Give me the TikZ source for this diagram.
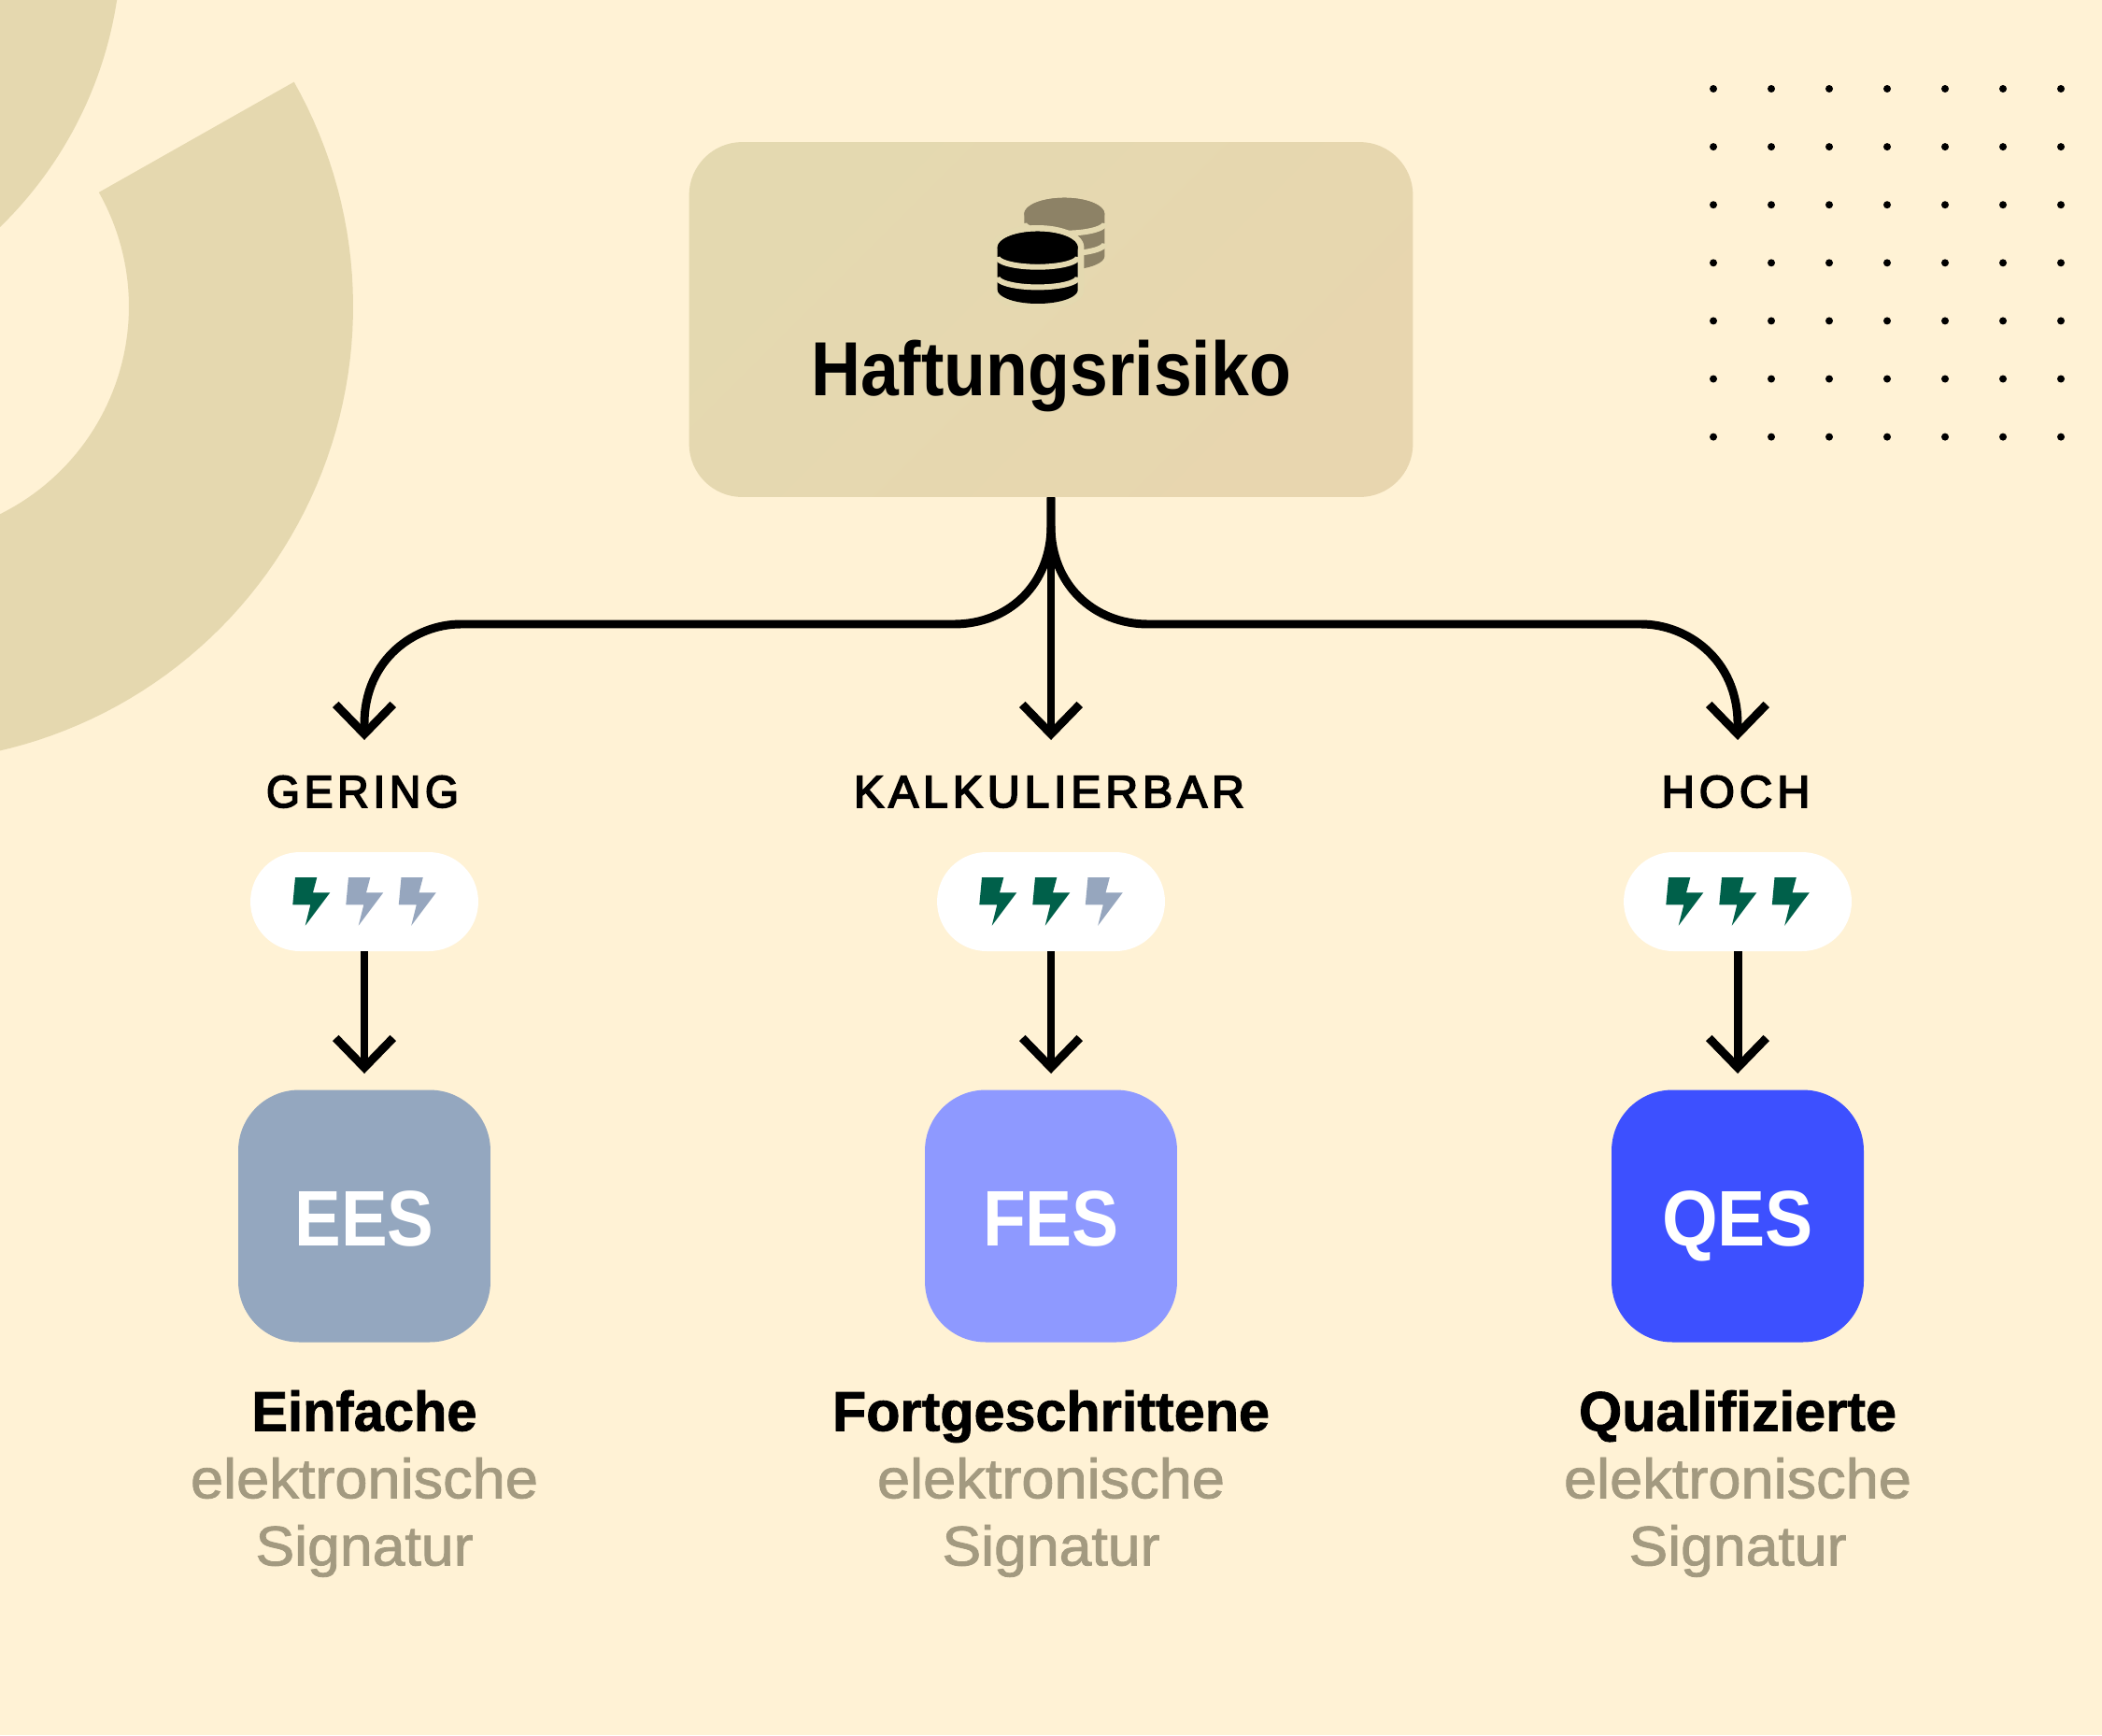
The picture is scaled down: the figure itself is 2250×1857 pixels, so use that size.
\documentclass[tikz,border=0pt]{standalone}
\usepackage{fontspec}
\usepackage{graphicx}
\usetikzlibrary{arrows.meta}
\setmainfont{Liberation Sans}
\newfontfamily\medf[FakeBold=1.4]{Liberation Sans}
\newfontfamily\spaced[LetterSpace=10,FakeBold=3.5]{Liberation Sans}
\newdimen\pxu \pxu=0.5691pt
\newcommand{\fw}[2]{\resizebox{#1\pxu}{\height}{#2}}
\definecolor{bgc}{HTML}{FFF2D5}
\definecolor{ringc}{HTML}{E5D8AF}
\definecolor{boxa}{HTML}{E4D9B0}
\definecolor{boxb}{HTML}{E8D6AF}
\definecolor{coinb}{HTML}{8D8266}
\definecolor{gtxt}{HTML}{A39A80}
\definecolor{bgreen}{HTML}{00604A}
\definecolor{bgrey}{HTML}{96A6BE}
\definecolor{eesc}{HTML}{94A7BF}
\definecolor{fesc}{HTML}{8E99FF}
\definecolor{qesc}{HTML}{3D50FF}
\tikzset{
  conn/.style={line width=5.1pt,black,-{Straight Barb[length=18pt,width=35pt]}},
  pillbox/.style={fill=white,minimum width=4.88cm,minimum height=2.12cm,rounded corners=1.06cm,inner sep=0},
  sigbox/.style={minimum width=5.4cm,minimum height=5.4cm,rounded corners=1.3cm,inner sep=0,text height=1.26cm,text depth=0pt,text=white,font=\bfseries\fontsize{48}{48}\selectfont},
  level/.style={anchor=base,inner sep=0,font=\spaced\fontsize{27.5}{27.5}\selectfont},
  caption/.style={anchor=north,inner sep=0,align=center,text=gtxt,font=\medf\fontsize{34.1}{41}\selectfont},
  titletext/.style={anchor=base,inner sep=0,font=\bfseries\fontsize{46.7}{46.7}\selectfont}
}
\newcommand{\coinsil}[2]{plot[domain=180:360,samples=40] ({#1+43*cos(\x)},{#2+17.3*sin(\x)}) -- plot[domain=0:180,samples=40] ({#1+43*cos(\x)},{#2+45+15*sin(\x)}) -- cycle}
\newcommand{\coin}[3]{%
  \fill[#3] \coinsil{#1}{#2};
  \draw[boxa,line width=3.4pt] plot[domain=0:180,samples=40] ({#1+43*cos(\x)},{#2+10+10.7*sin(\x)});
  \draw[boxa,line width=3.4pt] plot[domain=0:180,samples=40] ({#1+43*cos(\x)},{#2+31.7+10.7*sin(\x)});
  \fill[#3] (#1,#2) ellipse [x radius=43,y radius=17.3];
}
\newcommand{\bolt}[2]{\fill[#2] (#1-17,939) -- (#1+6.3,939) -- (#1+2,955.3) -- (#1+20.3,955.3) -- (#1-6.3,990.7) -- (#1-0.7,968.3) -- (#1-19.7,968.3) -- cycle;}
\begin{document}
\begin{tikzpicture}[x=0.02cm,y=-0.02cm]
\useasboundingbox (0,0) rectangle (2250,1857);
\fill[bgc] (0,0) rectangle (2250,1857);
\begin{scope}
\clip (0,0) rectangle (2250,1857);
\fill[ringc] plot[domain=-29.5:150,samples=100] ({-110+488*cos(\x)},{328+488*sin(\x)}) -- plot[domain=150:-29.5,samples=100] ({-110+248*cos(\x)},{328+248*sin(\x)}) -- cycle;
\fill[ringc] (-300,-65) circle [radius=430];
\end{scope}
\foreach \i in {0,...,6}
  \foreach \j in {0,...,6}
    \fill[black] ({1834+62*\i},{95+62.1*\j}) circle [radius=4];
% top box
\node[minimum width=15.5cm,minimum height=7.6cm,rounded corners=1.14cm,inner sep=0,left color=boxa,right color=boxb,shading angle=45] (top) at (1125,342) {};
% coins
\coin{1139.3}{229}{coinb}
\draw[boxa,line width=7.6pt,fill=boxa] \coinsil{1110.7}{265};
\coin{1110.7}{265}{black}
\node[titletext] (title) at (1125,423) {\fw{514}{Haftungsrisiko}};
% levels
\node[level] (l0) at (388,864) {\fw{206}{GERING}};
\node[level] (l1) at (1123,864) {\fw{418}{KALKULIERBAR}};
\node[level] (l2) at (1858,864) {\fw{159}{HOCH}};
% pills
\node[pillbox] (p0) at (390,965) {};
\node[pillbox] (p1) at (1125,965) {};
\node[pillbox] (p2) at (1860,965) {};
\bolt{333}{bgreen}\bolt{390}{bgrey}\bolt{446.5}{bgrey}
\bolt{1068}{bgreen}\bolt{1125}{bgreen}\bolt{1181.5}{bgrey}
\bolt{1803}{bgreen}\bolt{1860}{bgreen}\bolt{1916.5}{bgreen}
% squares
\node[sigbox,fill=eesc] (s0) at (390,1301.5) {\fw{149}{EES}};
\node[sigbox,fill=fesc] (s1) at (1125,1301.5) {\fw{146}{FES}};
\node[sigbox,fill=qesc] (s2) at (1860,1301.5) {\fw{162}{QES}};
% captions
\node[caption] (c0) at (390,1486) {\rule{0pt}{25.6pt}\textcolor{black}{\bfseries\fw{241}{Einfache}}\\\fw{372}{elektronische}\\\fw{233}{Signatur}};
\node[caption] (c1) at (1125,1486) {\rule{0pt}{25.6pt}\textcolor{black}{\bfseries\fw{468}{Fortgeschrittene}}\\\fw{372}{elektronische}\\\fw{233}{Signatur}};
\node[caption] (c2) at (1860,1486) {\rule{0pt}{25.6pt}\textcolor{black}{\bfseries\fw{340}{Qualifizierte}}\\\fw{372}{elektronische}\\\fw{233}{Signatur}};
% connector ends
\coordinate (a0) at (390,792);
\coordinate (a1) at (1125,792);
\coordinate (a2) at (1860,792);
\coordinate (b0) at (390,1149);
\coordinate (b1) at (1125,1149);
\coordinate (b2) at (1860,1149);
\draw[conn] (top.south) -- (1125,563) .. controls (1125,625) and (1080,668) .. (1021,668) -- (493,668) .. controls (445,668) and (390,705) .. (390,775) -- (a0);
\draw[conn] (top.south) -- (a1);
\draw[conn] (top.south) -- (1125,563) .. controls (1125,625) and (1170,668) .. (1229,668) -- (1757,668) .. controls (1805,668) and (1860,705) .. (1860,775) -- (a2);
\draw[conn] (p0.south) -- (b0);
\draw[conn] (p1.south) -- (b1);
\draw[conn] (p2.south) -- (b2);
\end{tikzpicture}
\end{document}
